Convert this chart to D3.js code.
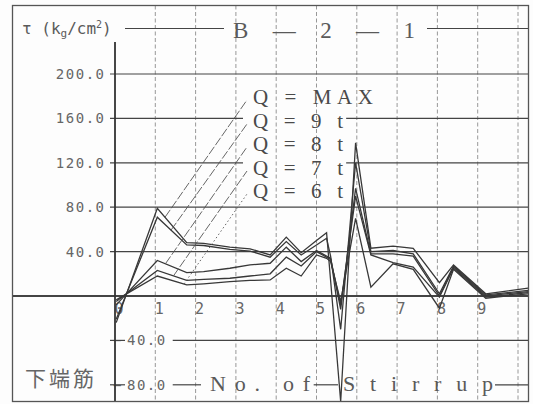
<!DOCTYPE html>
<html>
<head>
<meta charset="utf-8">
<script src="https://cdn.jsdelivr.net/npm/d3@7"></script>
<style>
  body { margin: 0; background: #ffffff; }
  svg { display: block; }
</style>
</head>
<body>
<svg id="chart" width="533" height="404"></svg>
<script>
// Measuring positions along the beam (stirrup number units)
const stirrupPos = [0.03, 1.05, 1.78, 2.2, 2.85, 3.35, 3.85, 4.25, 4.62, 5.0, 5.25, 5.35, 5.6, 5.97, 6.35, 6.9, 7.4, 8.05, 8.4, 9.2, 10.25];

// Bond stress τ (kg/cm²) of the bottom bar, one array per load step
const tauQmax = [-24, 79, 48, 47.5, 44, 42.5, 37, 53, 39, 50, 57, 14, -95, 138, 43, 45, 43, 12, 28, 2, 7];
const tauQ9   = [-21, 71, 46, 45.5, 42, 40.5, 35, 49, 37, 46, 52, 36, -30, 120, 40, 41, 38, 2, 27, 1, 5];
const tauQ8   = [-8, 32, 21, 22, 25, 28, 29.5, 44, 31, 41, 36, 34, -12, 97, 38, 38, 36, 0, 26, 0, 4];
const tauQ7   = [-5, 23, 14, 15, 16, 18, 20, 35, 27, 40, 35, 33, -8, 90, 37, 30, 26, -1, 25, -1, 3];
const tauQ6   = [-3.5, 18, 10, 11, 13, 14, 14.5, 25, 18, 37, 34, 31, -5, 70, 8, 29, 24, -11, 24, -2, 2];

const seriesNames = ["Q = MAX", "Q = 9 t", "Q = 8 t", "Q = 7 t", "Q = 6 t"];
const seriesValues = [tauQmax, tauQ9, tauQ8, tauQ7, tauQ6];

// Axis ticks
const yTicksPos = [200, 160, 120, 80, 40];
const yTicksNeg = [-40, -80];
const xGrid = [1, 2, 3, 4, 5, 6, 7, 8, 9, 10];
const xTickLabels = ["0", "1", "2", "3", "4", "5", "6", "7", "8", "9"];

// Where each label's leader line meets its curve (stirrup units)
const leaderFootPos = [1.24, 1.39, 1.25, 1.45, 1.71];

// ---------------------------------------------------------------
const frame = { x0: 12.5, y0: 5.5, x1: 528.5, y1: 401.5 };
const axisX = 115;

const x = d3.scaleLinear().domain([0, 10]).range([axisX, 518]);
const y = d3.scaleLinear().domain([-80, 200]).range([384.8, 74]);

const ink = "#383838";
const textInk = "#5a5a5a";
const mono = "'DejaVu Sans Mono', 'Liberation Mono', monospace";
const serif = "'Liberation Serif', 'DejaVu Serif', serif";

const svg = d3.select("#chart");
svg.append("rect").attr("width", 533).attr("height", 404).attr("fill", "#fdfdfd");

svg.append("defs").append("clipPath").attr("id", "frameClip")
  .append("rect")
  .attr("x", frame.x0).attr("y", frame.y0)
  .attr("width", frame.x1 - frame.x0).attr("height", frame.y1 - frame.y0);

// Vertical dashed grid at every stirrup
svg.append("g").selectAll("line").data(xGrid).join("line")
  .attr("x1", d => x(d)).attr("x2", d => x(d))
  .attr("y1", frame.y0).attr("y2", frame.y1)
  .attr("stroke", "#8c8c8c").attr("stroke-width", 0.9)
  .attr("stroke-dasharray", "4,2.5");

// ---------------- texts (drawn first so rules can break around them)
const textLayer = svg.append("g");
const knock = [];
function addKnock(sel, padL, padR) {
  const b = sel.node().getBBox();
  knock.push({ x0: b.x - padL, x1: b.x + b.width + padR, y0: b.y, y1: b.y + b.height });
}

// Unit label
const unit = textLayer.append("text")
  .attr("x", 22).attr("y", 34)
  .attr("font-family", mono).attr("font-size", 16).attr("fill", textInk);
unit.append("tspan").text("τ (k");
unit.append("tspan").attr("font-size", 11).attr("dy", 3).text("g");
unit.append("tspan").attr("dy", -3).text("/cm");
unit.append("tspan").attr("font-size", 10).attr("dy", -6).text("2");
unit.append("tspan").attr("dy", 6).text(")");
addKnock(unit, 0, 13);

// Specimen title
const title = textLayer.append("text")
  .attr("x", 233).attr("y", 38)
  .attr("font-family", serif).attr("font-size", 23).attr("fill", textInk)
  .attr("textLength", 182).attr("lengthAdjust", "spacing")
  .text("B — 2 — 1");
addKnock(title, 9, 12);

// Positive y tick labels
textLayer.append("g").selectAll("text").data(yTicksPos).join("text")
  .attr("x", 105.5).attr("y", d => y(d) + 5)
  .attr("text-anchor", "end")
  .attr("font-family", mono).attr("font-size", 14).attr("letter-spacing", 1.5)
  .attr("fill", "#666")
  .text(d => d3.format(".1f")(d));

// Negative y tick labels (the minus sits on the axis tick)
yTicksNeg.forEach(v => {
  const t = textLayer.append("text")
    .attr("y", y(v) + 5)
    .attr("font-family", mono).attr("font-size", 14).attr("letter-spacing", 1.5)
    .attr("fill", "#666");
  t.append("tspan").attr("x", 113).text("−");
  t.append("tspan").attr("x", 127).text(d3.format(".1f")(Math.abs(v)));
  const b = t.node().getBBox();
  knock.push({ x0: 125, x1: b.x + b.width + 6, y0: b.y, y1: b.y + b.height });
});

// x tick labels (stirrup numbers)
textLayer.append("g").selectAll("text").data(xTickLabels).join("text")
  .attr("x", (d, i) => x(i) + 4)
  .attr("y", 314)
  .attr("text-anchor", "middle")
  .attr("font-family", mono).attr("font-size", 15)
  .attr("fill", "#666")
  .text(d => d);

// Axis title and bar position
const ax1 = textLayer.append("text")
  .attr("x", 210).attr("y", 391)
  .attr("font-family", serif).attr("font-size", 22).attr("fill", textInk)
  .attr("textLength", 100).attr("lengthAdjust", "spacing")
  .text("No. of");
addKnock(ax1, 9, 3);
const ax2 = textLayer.append("text")
  .attr("x", 343).attr("y", 391)
  .attr("font-family", serif).attr("font-size", 22).attr("fill", textInk)
  .attr("textLength", 150).attr("lengthAdjust", "spacing")
  .text("Stirrup");
addKnock(ax2, 5, 2);

textLayer.append("text")
  .attr("x", 25).attr("y", 386)
  .attr("font-family", "'Noto Sans CJK JP', 'Noto Sans CJK SC', sans-serif")
  .attr("font-size", 21).attr("letter-spacing", 3).attr("fill", "#666")
  .text("下端筋");

// Load-step labels
const labelCenters = [97, 121, 144, 168, 191];
const labelX = 253;
seriesNames.forEach((name, i) => {
  const t = textLayer.append("text")
    .attr("x", labelX).attr("y", labelCenters[i] + 7)
    .attr("font-family", serif).attr("font-size", 21).attr("fill", "#4a4a4a")
    .attr("textLength", name === "Q = MAX" ? 120 : 90).attr("lengthAdjust", "spacing")
    .text(name);
  addKnock(t, 10, 3);
});

// ---------------- horizontal rules, broken where text crosses them
function ruleSegments(yy, xa, xb) {
  const gaps = knock.filter(k => yy >= k.y0 && yy <= k.y1)
    .map(k => [k.x0, k.x1]).sort((a, b) => a[0] - b[0]);
  const segs = [];
  let cur = xa;
  for (const [g0, g1] of gaps) {
    if (g1 <= cur) continue;
    if (g0 > cur) segs.push([cur, Math.min(g0, xb)]);
    cur = Math.max(cur, g1);
  }
  if (cur < xb) segs.push([cur, xb]);
  return segs;
}
const rules = svg.append("g").attr("stroke", "#444");
function drawRule(yy, xa, xb, w) {
  ruleSegments(yy, xa, xb).forEach(([a, b]) => {
    rules.append("line")
      .attr("x1", a).attr("x2", b).attr("y1", yy).attr("y2", yy)
      .attr("stroke-width", w);
  });
}
drawRule(28.5, 125, frame.x1, 1.2);
yTicksPos.forEach(v => drawRule(y(v), 110, frame.x1, 1.2));
yTicksNeg.forEach(v => drawRule(y(v), 110, frame.x1, 1.2));
drawRule(y(0), frame.x0, frame.x1, 2.2);

// y axis
svg.append("line")
  .attr("x1", axisX).attr("x2", axisX).attr("y1", 42).attr("y2", frame.y1)
  .attr("stroke", "#333").attr("stroke-width", 1.8);

// ---------------- data curves
const plot = svg.append("g").attr("clip-path", "url(#frameClip)");
const line = d3.line().x(d => x(d[0])).y(d => y(d[1]));
seriesValues.forEach(vals => {
  plot.append("path")
    .datum(stirrupPos.map((s, j) => [s, vals[j]]))
    .attr("d", line)
    .attr("fill", "none")
    .attr("stroke", ink).attr("stroke-width", 1.3)
    .attr("stroke-linejoin", "miter");
});

// Leader lines from each label down to its curve
function valueAt(vals, s) {
  const j = d3.bisectRight(stirrupPos, s) - 1;
  const t = (s - stirrupPos[j]) / (stirrupPos[j + 1] - stirrupPos[j]);
  return vals[j] + t * (vals[j + 1] - vals[j]);
}
seriesValues.forEach((vals, i) => {
  const fs = leaderFootPos[i];
  plot.append("line")
    .attr("x1", x(fs)).attr("y1", y(valueAt(vals, fs)))
    .attr("x2", 247).attr("y2", labelCenters[i] + 3)
    .attr("stroke", "#555").attr("stroke-width", 0.9)
    .attr("stroke-dasharray", i === 4 ? "1.5,2.5" : "9,2");
});

// Outer frame
svg.append("rect")
  .attr("x", frame.x0).attr("y", frame.y0)
  .attr("width", frame.x1 - frame.x0).attr("height", frame.y1 - frame.y0)
  .attr("fill", "none").attr("stroke", "#555").attr("stroke-width", 1.3);
</script>
</body>
</html>
